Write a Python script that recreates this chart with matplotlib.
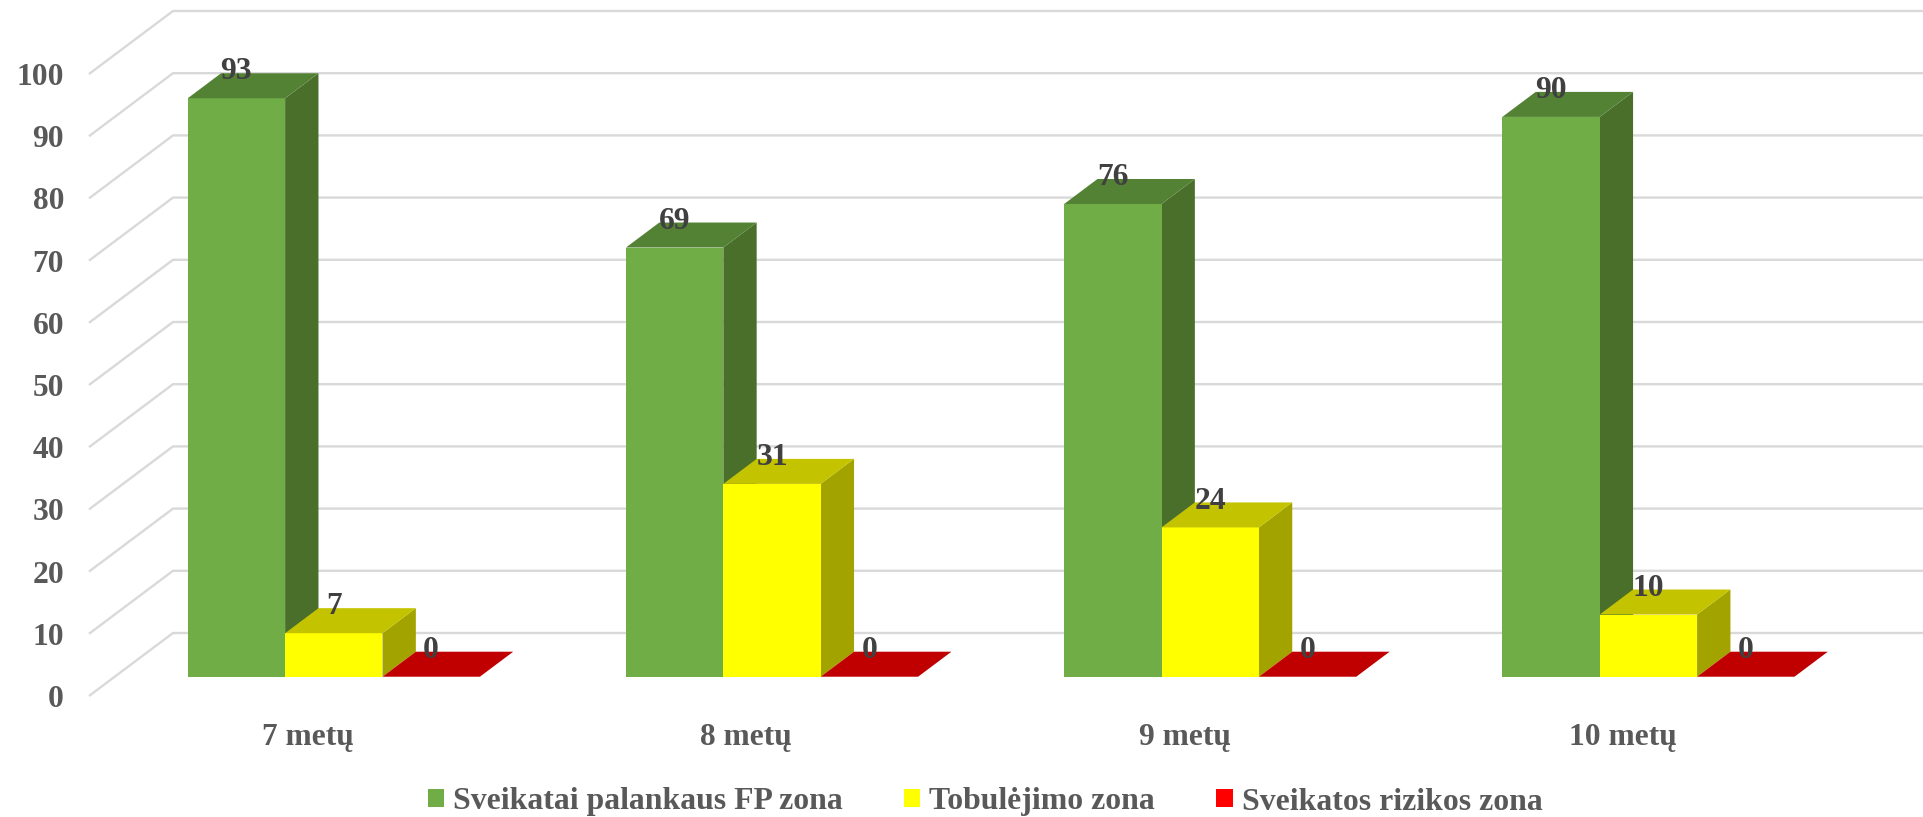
import matplotlib
matplotlib.use('Agg')
import matplotlib.pyplot as plt
from matplotlib.patches import Patch, Polygon

categories = ['7 metų', '8 metų', '9 metų', '10 metų']
series_names = ['Sveikatai palankaus FP zona', 'Tobulėjimo zona', 'Sveikatos rizikos zona']
healthy = [93, 69, 76, 90]
improve = [7, 31, 24, 10]
risk = [0, 0, 0, 0]
y_ticks = [0, 10, 20, 30, 40, 50, 60, 70, 80, 90, 100]

# front, top, side shades for each series, then the legend swatch
front_cols = ['#70AD47', '#FFFF00', '#C00000']
top_cols = ['#548235', '#C3C300', '#C00000']
side_cols = ['#4A6F2B', '#A3A300', '#C00000']
legend_cols = ['#70AD47', '#FFFF00', '#FF0000']

GRID = '#D9D9D9'
TICK_TXT = '#595959'
LABEL_TXT = '#404040'

# fake 3d: depth shift of the back wall in data units
depth_x = 84 / 438.2
depth_y = 63 / 6.22
z0, z1 = 0.306, 0.703
gap = 1.5
bar_w = 1 / (3 + gap)


def proj(x, y, z):
    return (x + z * depth_x, y + z * depth_y)


plt.rcParams['font.family'] = ['Liberation Serif', 'DejaVu Serif']
plt.rcParams['font.weight'] = 'bold'

fig = plt.figure(figsize=(19.24, 8.17), dpi=100)
ax = fig.add_axes([89 / 1924, (817 - 696) / 817, 1752.8 / 1924, 622 / 817])
ax.set_xlim(0, len(categories))
ax.set_ylim(0, 100)
for s in ax.spines.values():
    s.set_visible(False)

# walls
for v in y_ticks:
    xs = [0, depth_x, len(categories) + depth_x + 0.01]
    ys = [v, v + depth_y, v + depth_y]
    ax.plot(xs, ys, color=GRID, lw=1.7, clip_on=False, zorder=1, solid_capstyle='butt')


def draw_bar(x0, v, i, z):
    x1 = x0 + bar_w
    front = [proj(x0, 0, z0), proj(x1, 0, z0), proj(x1, v, z0), proj(x0, v, z0)]
    top = [proj(x0, v, z0), proj(x1, v, z0), proj(x1, v, z1), proj(x0, v, z1)]
    side = [proj(x1, 0, z0), proj(x1, 0, z1), proj(x1, v, z1), proj(x1, v, z0)]
    ax.add_patch(Polygon(side, closed=True, fc=side_cols[i], ec='none', zorder=z, clip_on=False))
    ax.add_patch(Polygon(front, closed=True, fc=front_cols[i], ec='none', zorder=z, clip_on=False))
    ax.add_patch(Polygon(top, closed=True, fc=top_cols[i], ec='none', zorder=z, clip_on=False))


for c in range(len(categories)):
    for i, vals in enumerate([healthy, improve, risk]):
        x0 = c + (gap / 2 + i) * bar_w
        draw_bar(x0, vals[c], i, 3 + i * 0.1)
        ax.annotate(str(vals[c]), xy=proj(x0 + bar_w / 2, vals[c], z0), xytext=(0, 19),
                    textcoords='offset points', ha='center', va='center',
                    fontsize=22.7, fontweight='bold', color=LABEL_TXT, zorder=6,
                    annotation_clip=False)

ax.set_yticks(y_ticks)
ax.set_xticks([c + 0.5 for c in range(len(categories))])
ax.set_xticklabels(categories)
ax.tick_params(axis='y', length=0, pad=18, labelsize=22.7, labelcolor=TICK_TXT)
ax.tick_params(axis='x', length=0, pad=19.5, labelsize=22.7, labelcolor=TICK_TXT)

handles = [Patch(fc=c, ec='none') for c in legend_cols]
fig.legend(handles, series_names, ncol=3, loc='center', bbox_to_anchor=(985 / 1924, 1 - 802 / 817),
           frameon=False, fontsize=22.9, labelcolor=TICK_TXT, handlelength=0.52, handleheight=0.52,
           handletextpad=0.28, columnspacing=1.92, borderpad=0, borderaxespad=0)

fig.savefig('out.png', dpi=100)
plt.close(fig)
